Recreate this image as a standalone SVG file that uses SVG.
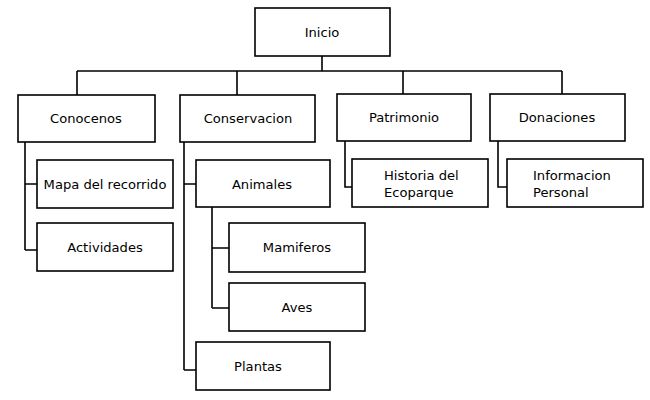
<svg xmlns="http://www.w3.org/2000/svg" width="650" height="400" viewBox="0 0 650 400">
<style>
.box{fill:#fff;stroke:#000;stroke-width:1.6}
.ln{fill:none;stroke:#000;stroke-width:1.6}
text{font-family:"DejaVu Sans","Liberation Sans",sans-serif;font-size:13.1px;fill:#000}
.c{text-anchor:middle}
</style>
<rect width="650" height="400" fill="#fff"/>
<g id="connectors" class="ln">
<path d="M322 56V71M77 71H562M77 71V95M237 71V95M403 71V94M562 71V94"/>
<path d="M25 142V250M25 184H37M25 250H37"/>
<path d="M184 142V370M184 184H196M184 370H196"/>
<path d="M212 207V308M212 248H229M212 308H229"/>
<path d="M345 141V187H352"/>
<path d="M498 141V187H507"/>
</g>
<g id="inicio"><rect class="box" x="255" y="8" width="135" height="48"/><text class="c" x="322" y="37">Inicio</text></g>
<g id="conocenos"><rect class="box" x="18" y="95" width="137" height="47"/><text class="c" x="86" y="123">Conocenos</text></g>
<g id="conservacion"><rect class="box" x="180" y="95" width="135" height="47"/><text class="c" x="248" y="123">Conservacion</text></g>
<g id="patrimonio"><rect class="box" x="337" y="94" width="134" height="47"/><text class="c" x="404" y="122">Patrimonio</text></g>
<g id="donaciones"><rect class="box" x="490" y="94" width="135" height="47"/><text class="c" x="557" y="122">Donaciones</text></g>
<g id="mapa"><rect class="box" x="37" y="160" width="136" height="48"/><text class="c" x="105" y="189">Mapa del recorrido</text></g>
<g id="actividades"><rect class="box" x="37" y="223" width="136" height="48"/><text class="c" x="105" y="252">Actividades</text></g>
<g id="animales"><rect class="box" x="196" y="160" width="134" height="47"/><text class="c" x="262" y="189">Animales</text></g>
<g id="mamiferos"><rect class="box" x="229" y="223" width="136" height="49"/><text class="c" x="297" y="252">Mamiferos</text></g>
<g id="aves"><rect class="box" x="229" y="283" width="136" height="48"/><text class="c" x="297" y="312">Aves</text></g>
<g id="plantas"><rect class="box" x="196" y="342" width="134" height="48"/><text class="c" x="258" y="371">Plantas</text></g>
<g id="historia"><rect class="box" x="352" y="159" width="136" height="48"/><text x="384" y="180">Historia del</text><text x="384" y="197">Ecoparque</text></g>
<g id="informacion"><rect class="box" x="507" y="159" width="136" height="48"/><text x="533" y="180">Informacion</text><text x="533" y="197">Personal</text></g>
</svg>
